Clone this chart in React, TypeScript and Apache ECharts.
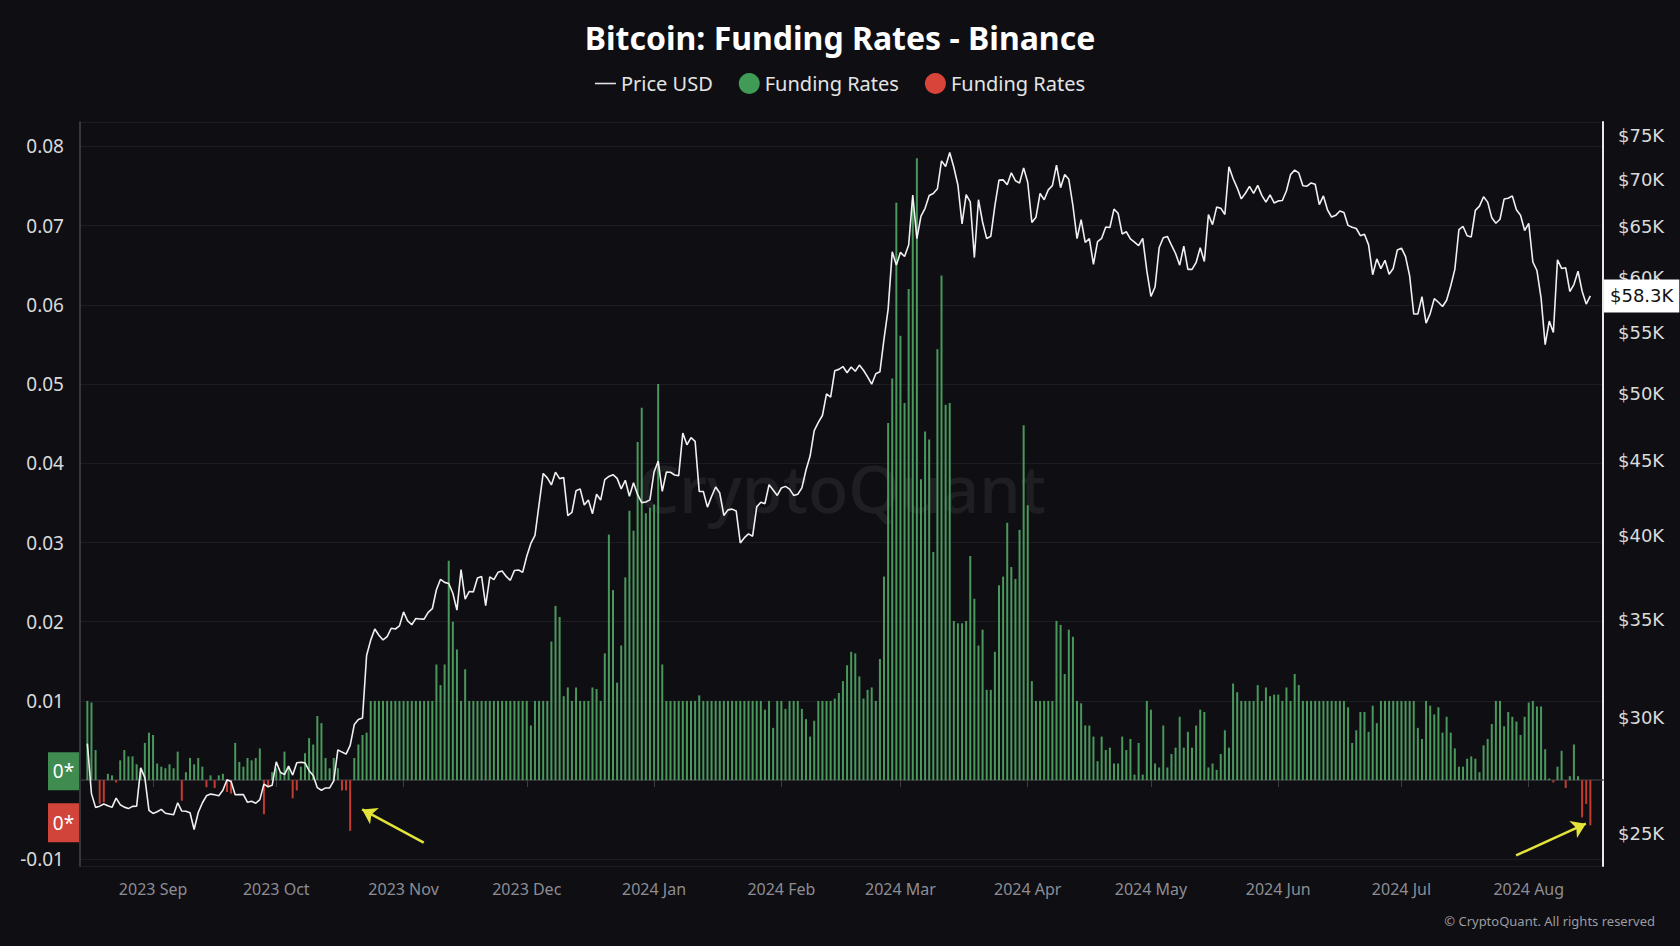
import React, { useEffect, useRef } from 'react';
import * as echarts from 'echarts';

// daily points, first one is 2023-08-16 (UTC)
const START = Date.UTC(2023, 7, 16);
const DAY = 86400000;
const X_MIN = Date.UTC(2023, 7, 14, 5);
const X_MAX = Date.UTC(2024, 7, 19, 2);

const monthStarts = [
  '2023-09-01', '2023-10-01', '2023-11-01', '2023-12-01', '2024-01-01', '2024-02-01',
  '2024-03-01', '2024-04-01', '2024-05-01', '2024-06-01', '2024-07-01', '2024-08-01',
];
const monthLabels = [
  '2023 Sep', '2023 Oct', '2023 Nov', '2023 Dec', '2024 Jan', '2024 Feb',
  '2024 Mar', '2024 Apr', '2024 May', '2024 Jun', '2024 Jul', '2024 Aug',
];
const priceTicks = [25000, 30000, 35000, 40000, 45000, 50000, 55000, 60000, 65000, 70000, 75000];

const priceUsd = [
  // Aug 16-31
  28800, 26620, 26050, 26100, 26190, 26120, 26050, 26430, 26160, 26060, 26000, 26090, 26100, 27720, 27300, 25930,
  // Sep
  25800, 25870, 25970, 25810, 25780, 25750, 26240, 25900, 25890, 25830, 25160, 25840, 26230, 26530, 26600,
  26570, 26530, 26760, 27210, 27130, 26570, 26580, 26580, 26260, 26300, 26220, 26370, 27020, 26910, 26970,
  // Oct
  27990, 27530, 27430, 27800, 27410, 27950, 27970, 27940, 27600, 27390, 26870, 26760, 26860, 26860, 27160, 28520,
  28420, 28330, 28720, 29680, 29920, 29990, 33090, 33900, 34500, 34160, 33910, 34090, 34540, 34500, 34670,
  // Nov
  35440, 34940, 34730, 35080, 35050, 35040, 35420, 35620, 36700, 37310, 37130, 37060, 36500, 35540, 37880,
  36160, 36600, 36580, 37390, 37480, 35800, 37450, 37290, 37720, 37800, 37480, 37250, 37830, 37860, 37720,
  // Dec
  38690, 39480, 39980, 41980, 44080, 43770, 43290, 44170, 43720, 43790, 41240, 41450, 42890, 43020, 41940, 42280,
  41370, 42660, 42270, 43650, 43870, 43990, 43740, 43020, 43610, 42520, 43440, 42630, 42100, 42140, 42280,
  // Jan
  44180, 44940, 42850, 44180, 44160, 43970, 43930, 46970, 46110, 46630, 46370, 42850, 42840, 41800, 42510, 43150,
  42740, 41260, 41620, 41670, 41550, 39510, 39840, 40080, 39930, 41820, 42120, 42030, 43300, 42950, 42580,
  // Feb
  43080, 43190, 43000, 42580, 42660, 43090, 44320, 45300, 47150, 47770, 48290, 49960, 49700, 51810, 51930,
  52160, 51660, 52120, 51780, 52280, 51860, 51320, 50730, 51570, 51730, 54480, 57080, 62500, 61200,
  // Mar
  62440, 62030, 63170, 68330, 63800, 66110, 66930, 68300, 68500, 69020, 72120, 71480, 73080, 71400, 69400, 65300,
  68390, 67610, 61930, 67840, 65500, 63800, 64040, 67210, 69960, 69990, 69460, 70780, 69900, 69640, 71330,
  // Apr
  69700, 65450, 65980, 68510, 67840, 68900, 69360, 71630, 69140, 70590, 70060, 67200, 63800, 65740, 63420,
  63810, 61280, 63510, 63840, 64990, 64930, 66840, 66410, 64280, 64500, 63770, 63460, 63110, 63840, 60640,
  // May
  58250, 59120, 62890, 63890, 64030, 63160, 62330, 61190, 63050, 60790, 60790, 61450, 62900, 61550, 66270, 65230,
  67050, 66940, 66280, 71450, 70140, 69120, 67930, 68530, 69280, 68510, 69390, 68300, 67580, 68360, 67490,
  // Jun
  67710, 67750, 68800, 70570, 71080, 70760, 69340, 69300, 69650, 69510, 67320, 68240, 66750, 66010, 66190,
  66640, 66490, 65150, 64960, 64830, 64100, 64250, 63180, 60280, 61800, 60860, 61670, 60320, 60880, 62680,
  // Jul
  62850, 62030, 60170, 56660, 56660, 58230, 55850, 56700, 58050, 57720, 57340, 57900, 59220, 60790, 64720, 65040,
  64090, 63970, 66710, 67160, 68160, 67580, 65930, 65370, 65780, 67910, 68000, 68250, 66780, 66190, 64620,
  // Aug 1-16
  65350, 61500, 60680, 58120, 53990, 56030, 55030, 61710, 60880, 60940, 58710, 59350, 60610, 58740, 57560, 58300,
];

const fundingRates = [
  // Aug 16-31
  0.0100, 0.0098, 0.0038, -0.0030, -0.0028, 0.0008, 0.0006, -0.0003, 0.0025, 0.0038, 0.0030, 0.0030, 0.0020, 0.0015, 0.0047, 0.0060,
  // Sep
  0.0057, 0.0021, 0.0017, 0.0015, 0.0020, 0.0015, 0.0036, -0.0026, 0.0010, 0.0028, 0.0020, 0.0028, 0.0017, -0.0009, 0.0006,
  -0.0010, 0.0006, 0.0008, -0.0015, -0.0017, 0.0047, 0.0023, 0.0017, 0.0028, 0.0025, 0.0028, 0.0040, -0.0043, -0.0009, 0.0010,
  // Oct
  0.0015, 0.0010, 0.0036, 0.0015, -0.0023, -0.0013, 0.0017, 0.0034, 0.0053, 0.0045, 0.0081, 0.0072, 0.0028, 0.0015, 0.0028, 0.0015,
  -0.0013, -0.0013, -0.0064, 0.0028, 0.0045, 0.0057, 0.0060, 0.0100, 0.0100, 0.0100, 0.0100, 0.0100, 0.0100, 0.0100, 0.0100,
  // Nov
  0.0100, 0.0100, 0.0100, 0.0100, 0.0100, 0.0100, 0.0100, 0.0100, 0.0146, 0.0120, 0.0146, 0.0277, 0.0200, 0.0165, 0.0100,
  0.0140, 0.0100, 0.0100, 0.0100, 0.0100, 0.0100, 0.0100, 0.0100, 0.0100, 0.0100, 0.0100, 0.0100, 0.0100, 0.0100, 0.0100,
  // Dec
  0.0100, 0.0069, 0.0100, 0.0100, 0.0100, 0.0100, 0.0175, 0.0220, 0.0206, 0.0106, 0.0117, 0.0100, 0.0117, 0.0100, 0.0100, 0.0100,
  0.0117, 0.0115, 0.0100, 0.0160, 0.0310, 0.0240, 0.0123, 0.0170, 0.0256, 0.0340, 0.0315, 0.0427, 0.0470, 0.0337, 0.0344,
  // Jan
  0.0348, 0.0500, 0.0146, 0.0100, 0.0100, 0.0100, 0.0100, 0.0100, 0.0100, 0.0100, 0.0100, 0.0107, 0.0100, 0.0100, 0.0100, 0.0100,
  0.0100, 0.0100, 0.0100, 0.0100, 0.0100, 0.0100, 0.0100, 0.0100, 0.0100, 0.0100, 0.0100, 0.0089, 0.0100, 0.0066, 0.0100,
  // Feb
  0.0100, 0.0090, 0.0100, 0.0100, 0.0100, 0.0090, 0.0077, 0.0055, 0.0075, 0.0100, 0.0100, 0.0100, 0.0100, 0.0103, 0.0110,
  0.0125, 0.0145, 0.0162, 0.0160, 0.0131, 0.0103, 0.0114, 0.0117, 0.0100, 0.0153, 0.0257, 0.0451, 0.0507, 0.0729,
  // Mar
  0.0561, 0.0476, 0.0620, 0.0732, 0.0785, 0.0380, 0.0440, 0.0430, 0.0288, 0.0544, 0.0637, 0.0474, 0.0476, 0.0201, 0.0198, 0.0198,
  0.0201, 0.0283, 0.0229, 0.0170, 0.0190, 0.0114, 0.0114, 0.0162, 0.0246, 0.0257, 0.0325, 0.0269, 0.0254, 0.0316, 0.0448,
  // Apr
  0.0347, 0.0125, 0.0100, 0.0100, 0.0100, 0.0100, 0.0100, 0.0201, 0.0196, 0.0134, 0.0190, 0.0181, 0.0100, 0.0097, 0.0069,
  0.0069, 0.0055, 0.0024, 0.0055, 0.0038, 0.0041, 0.0021, 0.0021, 0.0055, 0.0038, 0.0052, 0.0007, 0.0047, 0.0007, 0.0100,
  // May
  0.0089, 0.0021, 0.0016, 0.0069, 0.0016, 0.0033, 0.0041, 0.0080, 0.0041, 0.0061, 0.0041, 0.0069, 0.0089, 0.0086, 0.0016, 0.0021,
  0.0013, 0.0033, 0.0063, 0.0041, 0.0122, 0.0111, 0.0100, 0.0100, 0.0100, 0.0100, 0.0120, 0.0100, 0.0117, 0.0106, 0.0108,
  // Jun
  0.0108, 0.0100, 0.0117, 0.0100, 0.0134, 0.0120, 0.0100, 0.0100, 0.0100, 0.0100, 0.0100, 0.0100, 0.0100, 0.0100, 0.0100,
  0.0100, 0.0100, 0.0092, 0.0047, 0.0063, 0.0086, 0.0086, 0.0061, 0.0094, 0.0072, 0.0100, 0.0100, 0.0100, 0.0100, 0.0100,
  // Jul
  0.0100, 0.0100, 0.0100, 0.0100, 0.0066, 0.0052, 0.0100, 0.0094, 0.0083, 0.0092, 0.0060, 0.0080, 0.0060, 0.0040, 0.0017, 0.0017,
  0.0027, 0.0030, 0.0027, 0.0010, 0.0044, 0.0052, 0.0071, 0.0100, 0.0100, 0.0068, 0.0086, 0.0080, 0.0074, 0.0057, 0.0080,
  // Aug 1-16
  0.0098, 0.0100, 0.0093, 0.0093, 0.0039, 0.0002, -0.0003, 0.0017, 0.0037, -0.0010, 0.0005, 0.0045, 0.0005, -0.0047, -0.0030, -0.0057,
];

// hand drawn yellow arrows: [from, to] as [date, funding rate]
const arrowNotes = [
  [['2023-11-05T22:00:00Z', -0.0079], ['2023-10-21T22:00:00Z', -0.0037]],
  [['2024-07-28T22:00:00Z', -0.0095], ['2024-08-14T22:00:00Z', -0.0055]],
];

const FONT = '"Noto Sans", sans-serif';
const MONO = '"DejaVu Sans", sans-serif';

const App = () => {
  const chartRef = useRef<HTMLDivElement>(null);

  useEffect(() => {
    document.body.style.margin = '0';
    document.body.style.background = '#0e0e13';
    if (!chartRef.current) return;
    const chart = echarts.init(chartRef.current, null, { renderer: 'svg' });

    const monthTs = monthStarts.map((s) => Date.parse(s));
    const lastPrice = priceUsd[priceUsd.length - 1];
    const ts = (i: number) => START + i * DAY;

    const option = {
      animation: false,
      backgroundColor: '#0e0e13',
      textStyle: { fontFamily: FONT },
      title: {
        text: 'Bitcoin: Funding Rates - Binance',
        left: 'center',
        top: 16,
        textStyle: { color: '#ffffff', fontSize: 32, fontWeight: 'bold', fontFamily: FONT },
      },
      legend: {
        top: 68,
        left: 'center',
        itemWidth: 21,
        itemHeight: 21,
        itemGap: 26,
        textStyle: { color: '#e4e4e4', fontSize: 20, fontFamily: FONT },
        formatter: (name: string) => name.replace(/ \(.\)$/, ''),
        data: [
          { name: 'Price USD', icon: 'path://M0 0H20V1.5H0Z', itemStyle: { color: '#e4e4e4' } },
          { name: 'Funding Rates (+)', icon: 'circle', itemStyle: { color: '#3f9b55' } },
          { name: 'Funding Rates (-)', icon: 'circle', itemStyle: { color: '#d8433a' } },
        ],
      },
      grid: { left: 80, right: 77, top: 122, bottom: 80 },
      xAxis: {
        // timestamps on a value axis, ticks at month starts
        type: 'value',
        min: X_MIN,
        max: X_MAX,
        axisLine: { lineStyle: { color: '#34343b', width: 1.5 } },
        axisTick: { show: true, length: 7, customValues: monthTs, lineStyle: { color: '#3c3c44' } },
        axisLabel: {
          customValues: monthTs,
          color: '#8d8d93',
          fontSize: 16,
          margin: 15,
          fontFamily: FONT,
          formatter: (v: number) => {
            let best = 0;
            monthTs.forEach((t, i) => {
              if (Math.abs(t - v) < Math.abs(monthTs[best] - v)) best = i;
            });
            return monthLabels[best];
          },
        },
        splitLine: { show: false },
      },
      yAxis: [
        {
          type: 'value',
          position: 'left',
          min: -0.01084,
          max: 0.08309,
          splitNumber: 9,
          axisLine: { show: true, lineStyle: { color: '#46464d', width: 1.5 } },
          axisTick: { show: false },
          axisLabel: {
            color: '#dadada',
            fontSize: 19,
            margin: 16,
            fontFamily: FONT,
            showMinLabel: false,
            showMaxLabel: false,
            formatter: (v: number) => (Math.abs(v) < 1e-9 ? '' : v.toFixed(2)),
          },
          splitLine: { lineStyle: { color: '#1c1c22', width: 1 } },
        },
        {
          type: 'log',
          position: 'right',
          min: 23752,
          max: 76672,
          axisLine: { show: true, lineStyle: { color: '#e8e8e8', width: 2 } },
          axisTick: { show: false },
          splitLine: { show: false },
          axisLabel: {
            customValues: priceTicks,
            color: '#dadada',
            fontSize: 18,
            margin: 15,
            fontFamily: MONO,
            formatter: (v: number) => '$' + Math.round(v / 1000) + 'K',
          },
        },
      ],
      series: [
        {
          name: 'Funding Rates (+)',
          type: 'bar',
          yAxisIndex: 0,
          barWidth: 2,
          barGap: '-100%',
          itemStyle: { color: '#4a985c' },
          data: fundingRates.map((v, i) => [ts(i), v > 0 ? v : '-']),
        },
        {
          name: 'Funding Rates (-)',
          type: 'bar',
          yAxisIndex: 0,
          barWidth: 2,
          barGap: '-100%',
          itemStyle: { color: '#c43b31' },
          data: fundingRates.map((v, i) => [ts(i), v < 0 ? v : '-']),
          markLine: {
            silent: true,
            symbol: ['none', 'arrow'],
            symbolSize: 14,
            label: { show: false },
            lineStyle: { color: '#e3e33a', width: 2.5, type: 'solid' },
            data: arrowNotes.map(([a, b]) => [
              { coord: [Date.parse(a[0] as string), a[1]] },
              { coord: [Date.parse(b[0] as string), b[1]] },
            ]),
          },
        },
        {
          name: 'Price USD',
          type: 'line',
          yAxisIndex: 1,
          showSymbol: false,
          symbol: 'none',
          z: 5,
          lineStyle: { color: '#f0f0f0', width: 1.6 },
          itemStyle: { color: '#f0f0f0' },
          data: priceUsd.map((v, i) => [ts(i), v]),
        },
        {
          // last price tag on the right axis
          name: 'last',
          type: 'line',
          yAxisIndex: 1,
          symbol: 'none',
          silent: true,
          z: 6,
          lineStyle: { width: 0 },
          data: [],
          markLine: {
            silent: true,
            symbol: 'none',
            lineStyle: { color: 'rgba(0,0,0,0)', width: 0 },
            label: {
              show: true,
              position: 'end',
              distance: 1,
              formatter: () => '$' + (lastPrice / 1000).toFixed(1) + 'K',
              backgroundColor: '#ffffff',
              color: '#111111',
              fontSize: 18,
              fontFamily: MONO,
              padding: [8, 6, 7, 6],
            },
            data: [{ yAxis: lastPrice }],
          },
        },
      ],
    };

    chart.setOption(option);

    const zeroY = chart.convertToPixel({ yAxisIndex: 0 }, 0) as number;
    const midX = (80 + 1603) / 2;
    chart.setOption({
      graphic: [
        {
          type: 'text',
          x: midX,
          y: 487,
          z: 0,
          silent: true,
          style: {
            text: 'CryptoQuant',
            fill: 'rgba(255,255,255,0.07)',
            fontSize: 66,
            fontWeight: 500,
            fontFamily: FONT,
            align: 'center',
            verticalAlign: 'middle',
          },
        },
        {
          type: 'group',
          left: 48,
          top: zeroY - 28,
          children: [
            { type: 'rect', shape: { x: 0, y: 0, width: 31, height: 38 }, style: { fill: '#3f8b50' } },
            {
              type: 'text',
              x: 15.5,
              y: 19,
              style: { text: '0*', fill: '#ffffff', fontSize: 19, fontFamily: FONT, align: 'center', verticalAlign: 'middle' },
            },
          ],
        },
        {
          type: 'group',
          left: 48,
          top: zeroY + 23,
          children: [
            { type: 'rect', shape: { x: 0, y: 0, width: 31, height: 39 }, style: { fill: '#d0443a' } },
            {
              type: 'text',
              x: 15.5,
              y: 19.5,
              style: { text: '0*', fill: '#ffffff', fontSize: 19, fontFamily: FONT, align: 'center', verticalAlign: 'middle' },
            },
          ],
        },
        {
          type: 'text',
          right: 25,
          top: 914,
          style: { text: '© CryptoQuant. All rights reserved', fill: '#9c9ca2', fontSize: 13, fontFamily: FONT },
        },
      ],
    });

    const onResize = () => chart.resize();
    window.addEventListener('resize', onResize);
    return () => {
      window.removeEventListener('resize', onResize);
      chart.dispose();
    };
  }, []);

  return <div ref={chartRef} style={{ position: 'fixed', left: 0, top: 0, width: '100vw', height: '100vh' }} />;
};

export default App;
